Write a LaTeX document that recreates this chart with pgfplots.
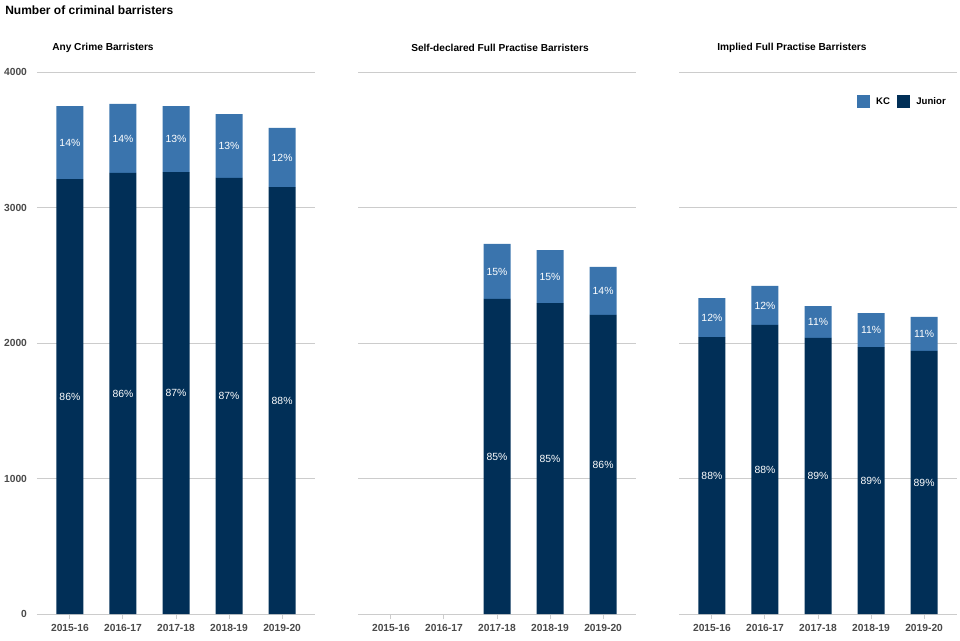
\documentclass[border=0pt]{standalone}
\usepackage{fontspec}
\setmainfont{Liberation Sans}
\usepackage{pgfplots}
\pgfplotsset{compat=1.18}
\usepackage{pgfplotstable}

\definecolor{kc}{HTML}{3A74AD}
\definecolor{junior}{HTML}{012F57}
\definecolor{gridc}{HTML}{CCCCCC}
\definecolor{tickc}{HTML}{4A4A4A}

% x junior kc  (percent labels in jp kp)
\pgfplotstableread{
x junior kc jp kp
0 3210 539 86 14
1 3255 509 86 14
2 3262 487 87 13
3 3218 472 87 13
4 3151 436 88 12
}\anycrime
\pgfplotstableread{
x junior kc jp kp
2 2325 406 85 15
3 2295 391 85 15
4 2207 354 86 14
}\selfdecl
\pgfplotstableread{
x junior kc jp kp
0 2044 288 88 12
1 2133 288 88 12
2 2037 236 89 11
3 1970 251 89 11
4 1941 251 89 11
}\implied

\pgfplotsset{
  frame/.style={
    scale only axis, width=208.5pt, height=406.5pt,
    xmin=-0.62, xmax=4.62, ymin=0, ymax=4000,
    enlargelimits=false, anchor=south west,
  },
  panel/.style={
    frame,
    ybar stacked, bar width=20.25pt,
    xtick={0,...,4},
    xticklabels={2015-16,2016-17,2017-18,2018-19,2019-20},
    ytick={0,1000,2000,3000,4000},
    ymajorgrids, grid style={gridc, line width=0.75pt},
    axis x line*=bottom, axis y line*=left,
    x axis line style={gridc, line width=0.75pt},
    y axis line style={draw=none},
    xtick style={gridc, line width=0.75pt},
    ytick style={draw=none},
    major tick length=4pt, tick align=outside,
    tick label style={font=\bfseries\fontsize{7.7}{9}\selectfont, text=tickc},
    /pgf/number format/assume math mode=true,
    /pgf/number format/1000 sep={},
  },
  labels/.style={
    frame, hide axis,
    /pgf/number format/assume math mode=true,
  },
  pct/.style={
    draw=none, mark=none,
    nodes near coords={\pgfmathprintnumber{\pgfplotspointmeta}\%},
    every node near coord/.append style={anchor=center, text=white,
      font=\fontsize{7.8}{9}\selectfont},
  },
}

\begin{document}
\begin{tikzpicture}
\useasboundingbox (0,0) rectangle (720pt,480pt);

\node[anchor=west, inner sep=0pt, font=\bfseries\fontsize{9}{11}\selectfont] at (3.75pt,472.5pt) {Number of criminal barristers};
\node[anchor=west, inner sep=0pt, font=\bfseries\fontsize{7.6}{9}\selectfont] at (39pt,444pt) {Any Crime Barristers};
\node[anchor=west, inner sep=0pt, font=\bfseries\fontsize{7.6}{9}\selectfont] at (308.25pt,444pt) {Self-declared Full Practise Barristers};
\node[anchor=west, inner sep=0pt, font=\bfseries\fontsize{7.6}{9}\selectfont] at (537.75pt,444pt) {Implied Full Practise Barristers};

% ---- Any Crime
\begin{axis}[panel, at={(27.75pt,19.5pt)}]
\addplot[draw=none, fill=junior] table[x=x, y=junior] {\anycrime};
\addplot[draw=none, fill=kc] table[x=x, y=kc] {\anycrime};
\end{axis}
\begin{axis}[labels, at={(27.75pt,19.5pt)}]
\addplot[pct, point meta=\thisrow{jp}] table[x=x, y expr=\thisrow{junior}/2] {\anycrime};
\addplot[pct, point meta=\thisrow{kp}] table[x=x, y expr=\thisrow{junior}+\thisrow{kc}/2] {\anycrime};
\end{axis}

% ---- Self-declared
\begin{axis}[panel, at={(268.5pt,19.5pt)}, yticklabels={}]
\addplot[draw=none, fill=junior] table[x=x, y=junior] {\selfdecl};
\addplot[draw=none, fill=kc] table[x=x, y=kc] {\selfdecl};
\end{axis}
\begin{axis}[labels, at={(268.5pt,19.5pt)}]
\addplot[pct, point meta=\thisrow{jp}] table[x=x, y expr=\thisrow{junior}/2] {\selfdecl};
\addplot[pct, point meta=\thisrow{kp}] table[x=x, y expr=\thisrow{junior}+\thisrow{kc}/2] {\selfdecl};
\end{axis}

% ---- Implied
\begin{axis}[panel, at={(509.25pt,19.5pt)}, yticklabels={},
  reverse legend,
  legend style={at={(0.97,0.945)}, anchor=east, draw=none, fill=none,
    legend columns=2, inner sep=0pt,
    font=\bfseries\fontsize{7.2}{9}\selectfont,
    /tikz/every odd column/.append style={column sep=3pt},
    /tikz/every even column/.append style={column sep=3pt}},
  legend image code/.code={\fill[#1] (0pt,-4.9pt) rectangle (9.75pt,4.9pt);},
]
\addplot[draw=none, fill=junior] table[x=x, y=junior] {\implied};
\addplot[draw=none, fill=kc] table[x=x, y=kc] {\implied};
\legend{Junior, KC}
\end{axis}
\begin{axis}[labels, at={(509.25pt,19.5pt)}]
\addplot[pct, point meta=\thisrow{jp}] table[x=x, y expr=\thisrow{junior}/2] {\implied};
\addplot[pct, point meta=\thisrow{kp}] table[x=x, y expr=\thisrow{junior}+\thisrow{kc}/2] {\implied};
\end{axis}
\end{tikzpicture}
\end{document}
